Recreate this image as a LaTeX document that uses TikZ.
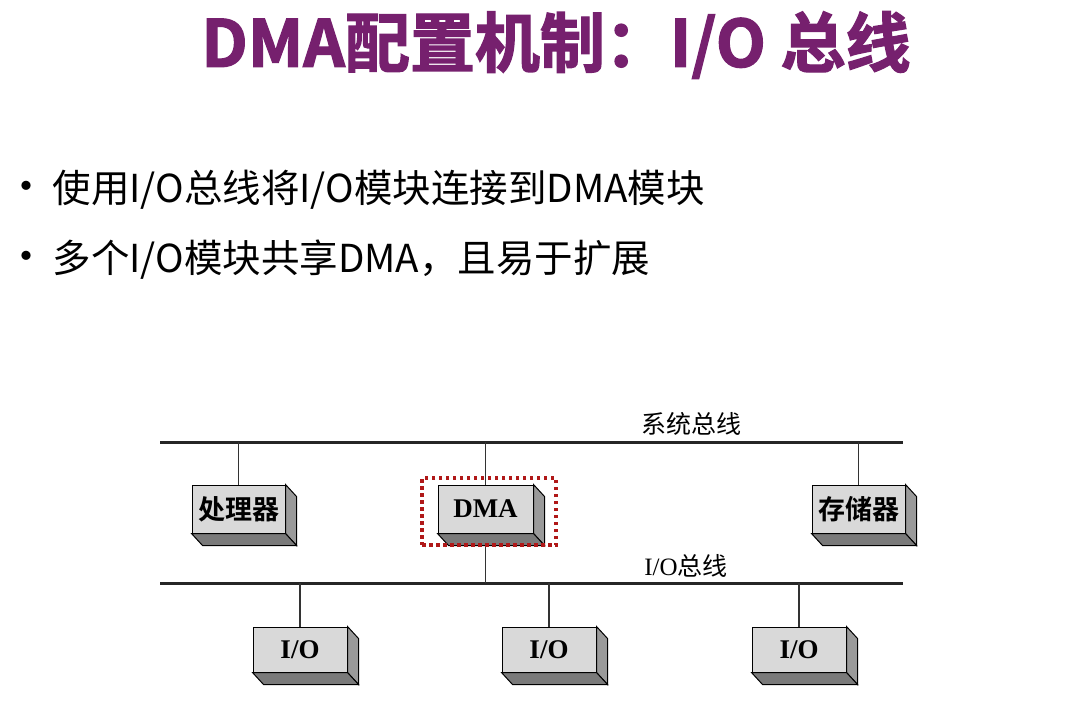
\documentclass[tikz,border=0pt]{standalone}
\usepackage{fontspec}
\setmainfont{Noto Sans CJK SC}[BoldFont={Noto Sans CJK SC Bold}]
\newfontfamily\cjk{Noto Sans CJK SC}[BoldFont={Noto Sans CJK SC Bold}]
\newfontfamily\titlefont{Noto Sans CJK SC Bold}[FakeBold=2]
\newfontfamily\dserif{Liberation Serif}
\definecolor{titlepurple}{HTML}{76206E}
\definecolor{selred}{HTML}{B01818}
\definecolor{boxfront}{HTML}{D9D9D9}
\definecolor{boxside}{HTML}{9A9A9A}
\definecolor{boxbottom}{HTML}{7A7A7A}
\begin{document}
\begin{tikzpicture}[x=1pt,y=-1pt,
  bus/.style={line width=3pt,color=black!85},
  link/.style={line width=1.2pt,color=black!80},
  box3d/.style={draw=black,line width=1pt,fill=boxfront,minimum width=94pt,minimum height=47pt,inner sep=0pt},
  sidefill/.style={draw=black,line width=1pt,fill=boxside},
  botfill/.style={draw=black,line width=1pt,fill=boxbottom},
  cjklab/.style={font=\cjk\bfseries\fontsize{27}{30}\selectfont},
  serlab/.style={font=\dserif\bfseries\fontsize{27}{30}\selectfont},
  buslab/.style={font=\cjk\fontsize{25}{28}\selectfont},
  bullettext/.style={anchor=west,font=\cjk\fontsize{38.5}{42}\selectfont}
]
\useasboundingbox (0,0) rectangle (1066,717);
\fill[white] (0,0) rectangle (1066,717);

% title
\node[font=\titlefont\fontsize{65}{72}\selectfont,text=titlepurple] (title) at (556,45) {DMA配置机制：I/O 总线};

% bullets
\node[font=\cjk\bfseries\fontsize{36}{40}\selectfont] (b1) at (27,190) {•};
\node[bullettext] (t1) at (49,190) {使用I/O总线将I/O模块连接到DMA模块};
\node[font=\cjk\bfseries\fontsize{36}{40}\selectfont] (b2) at (27,260) {•};
\node[bullettext] (t2) at (49,260) {多个I/O模块共享DMA，且易于扩展};

% buses
\coordinate (sysL) at (160,442);
\coordinate (sysR) at (903,442);
\coordinate (ioL) at (160,583);
\coordinate (ioR) at (903,583);
\draw[bus] (sysL) -- (sysR);
\draw[bus] (ioL) -- (ioR);
\node[buslab] (syslab) at (691,424) {系统总线};
\node[buslab,font=\dserif\fontsize{25}{28}\selectfont] (iolab) at (686,566) {I/O\cjk 总线};

% boxes
\node[box3d,minimum width=93pt,minimum height=48pt,cjklab] (proc) at (238.5,509) {处理器};
\node[box3d,minimum width=95pt,minimum height=48pt,serlab] (dma) at (485.5,509) {DMA};
\node[box3d,minimum width=93pt,minimum height=48pt,cjklab] (mem) at (858.5,509) {存储器};
\node[box3d,minimum height=45pt,serlab] (io1) at (300,649.5) {I/O};
\node[box3d,minimum height=45pt,serlab] (io2) at (549,649.5) {I/O};
\node[box3d,minimum height=45pt,serlab] (io3) at (799,649.5) {I/O};

\foreach \n in {proc,dma,mem,io1,io2,io3}{
  \draw[sidefill] (\n.north east) -- ([shift={(11,12)}]\n.north east) -- ([shift={(11,12)}]\n.south east) -- (\n.south east) -- cycle;
  \draw[botfill] (\n.south west) -- (\n.south east) -- ([shift={(11,12)}]\n.south east) -- ([shift={(11,12)}]\n.south west) -- cycle;
}

% links
\draw[link] (proc.north) -- (proc.north |- sysL);
\draw[link] (dma.north) -- (dma.north |- sysL);
\draw[link] (mem.north) -- (mem.north |- sysL);
\draw[link] ([shift={(0,12)}]dma.south) -- (dma.south |- ioL);
\draw[link] (io1.north) -- (io1.north |- ioL);
\draw[link] (io2.north) -- (io2.north |- ioL);
\draw[link] (io3.north) -- (io3.north |- ioL);

% selection
\node[draw=selred,line width=3.5pt,dash pattern=on 3.5pt off 3.5pt,minimum width=134pt,minimum height=67pt] (dmasel) at (489,511.5) {};
\end{tikzpicture}
\end{document}
